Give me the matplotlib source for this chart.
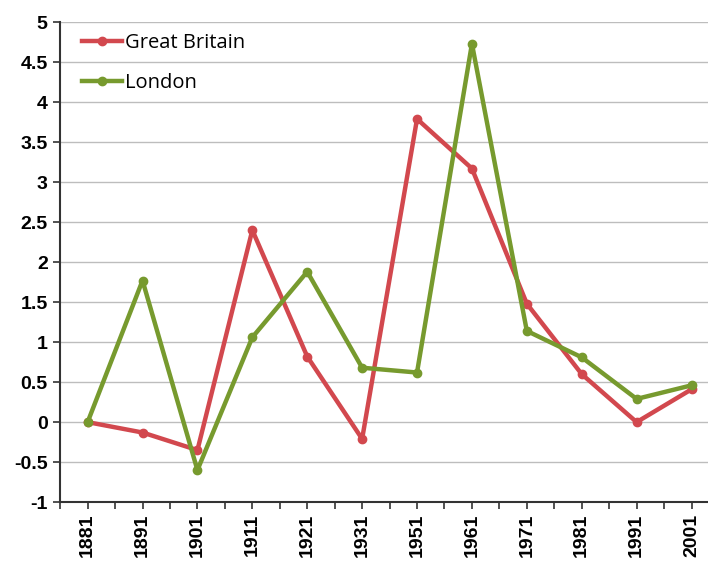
import numpy as np
import matplotlib.pyplot as plt

# census years and values
years = ['1881', '1891', '1901', '1911', '1921', '1931',
         '1951', '1961', '1971', '1981', '1991', '2001']
great_britain = [0.0, -0.13, -0.35, 2.40, 0.82, -0.21,
                 3.79, 3.17, 1.48, 0.60, 0.00, 0.41]
london = [0.0, 1.77, -0.60, 1.06, 1.88, 0.68,
          0.62, 4.73, 1.14, 0.81, 0.29, 0.46]

red = '#D2484E'
green = '#779A2E'

fig = plt.figure(figsize=(7.08, 5.68), dpi=100)
ax = fig.add_axes([0.085, 0.116, 0.915, 0.845])

x = np.arange(len(years))
ax.plot(x, great_britain, color=red, lw=3.2, marker='o', ms=6, label='Great Britain', zorder=3)
ax.plot(x, london, color=green, lw=3.2, marker='o', ms=6, label='London', zorder=3)

ax.set_ylim(-1, 5)
ax.set_yticks(np.arange(-1, 5.01, 0.5))
ax.set_yticklabels(['%g' % v for v in np.arange(-1, 5.01, 0.5)],
                   fontsize=14, fontweight='bold', family='Liberation Sans')
ax.yaxis.grid(True, color='#BDBDBD', lw=1)
ax.set_axisbelow(True)

ax.set_xlim(-0.5, 11.3)
ax.set_xticks(x)
ax.set_xticklabels(years, rotation=90, fontsize=14, fontweight='bold', family='Liberation Sans')
ax.set_xticks(np.arange(-0.5, 11.5, 1), minor=True)
ax.tick_params(axis='x', which='both', length=5, width=1.2, color='#333333')
ax.tick_params(axis='y', length=5, width=1.2, color='#333333', pad=4)

for s in ['top', 'right']:
    ax.spines[s].set_visible(False)
for s in ['left', 'bottom']:
    ax.spines[s].set_color('#333333')
    ax.spines[s].set_linewidth(1.5)

ax.legend(loc='upper left', frameon=False, handlelength=2.0,
          handletextpad=0.15, labelspacing=1.0, prop={'family': 'Open Sans', 'size': 14.5},
          bbox_to_anchor=(0.005, 1.015))

plt.savefig('out.png')
